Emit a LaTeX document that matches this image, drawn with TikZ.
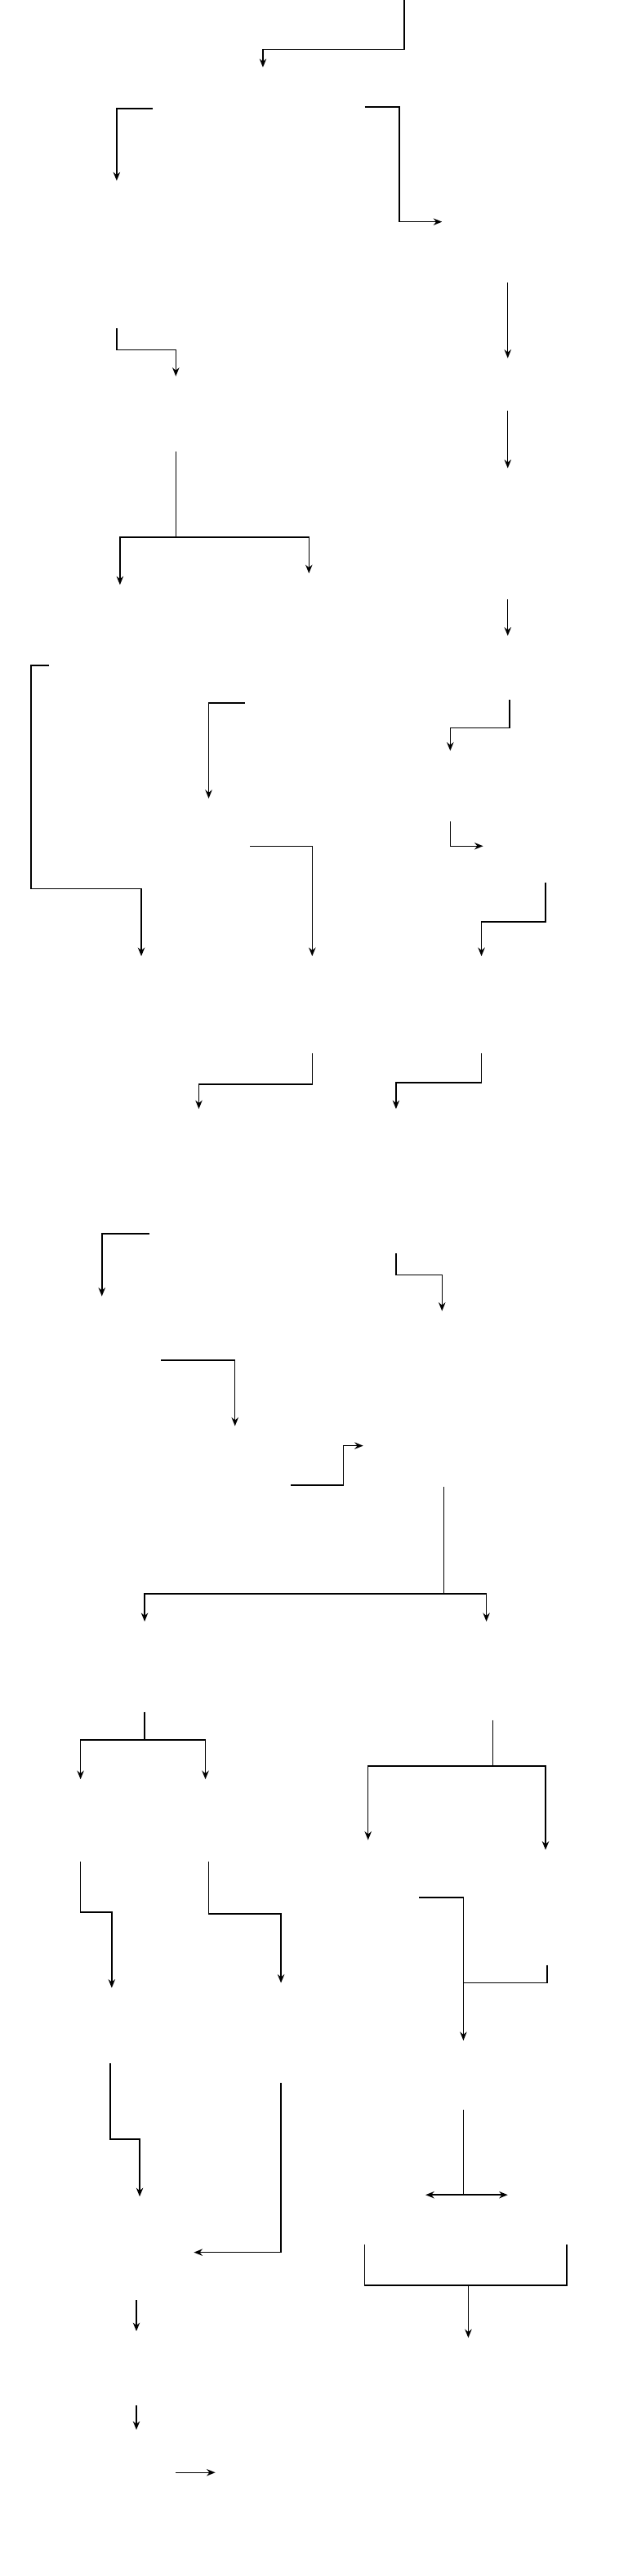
\documentclass[tikz,border=0pt]{standalone}
\usepackage{tikz}
\usetikzlibrary{arrows.meta}

\begin{document}
\begin{tikzpicture}[
    x=0.0402cm, y=-0.0402cm,
    wire/.style={draw, line width=0.85pt},
    link/.style={wire, -{Stealth[length=6pt, width=4.8pt]}},
    twolink/.style={wire, {Stealth[length=6pt, width=4.8pt]}-{Stealth[length=6pt, width=4.8pt]}}
]
\useasboundingbox (0,0) rectangle (382,1568);

% end points of the connectors
\coordinate (a0) at (246,-1);   \coordinate (a1) at (160,41);
\coordinate (b0) at (93,66);    \coordinate (b1) at (71,110);
\coordinate (c0) at (222,65);   \coordinate (c1) at (269,135);
\coordinate (d0) at (309,172);  \coordinate (d1) at (309,218);
\coordinate (e0) at (71,200);   \coordinate (e1) at (107,229);
\coordinate (f0) at (309,250);  \coordinate (f1) at (309,285);
\coordinate (g0) at (107,275);  \coordinate (g1) at (73,356);   \coordinate (g2) at (188,349);
\coordinate (h0) at (309,365);  \coordinate (h1) at (309,387);
\coordinate (i0) at (30,405);   \coordinate (i1) at (86,582);
\coordinate (j0) at (149,428);  \coordinate (j1) at (127,486);
\coordinate (k0) at (310,426);  \coordinate (k1) at (274,457);
\coordinate (l0) at (274,500);  \coordinate (l1) at (294,515);
\coordinate (m0) at (152,515);  \coordinate (m1) at (190,582);
\coordinate (n0) at (332,537);  \coordinate (n1) at (293,582);
\coordinate (o0) at (190,641);  \coordinate (o1) at (121,675);
\coordinate (p0) at (293,641);  \coordinate (p1) at (241,675);
\coordinate (q0) at (91,751);   \coordinate (q1) at (62,789);
\coordinate (r0) at (241,763);  \coordinate (r1) at (269,798);
\coordinate (s0) at (98,828);   \coordinate (s1) at (143,868);
\coordinate (u0) at (177,904);  \coordinate (u1) at (221,880);
\coordinate (v0) at (270,905);  \coordinate (v1) at (88,987);   \coordinate (v2) at (296,987);
\coordinate (w0) at (88,1042);  \coordinate (w1) at (49,1083);  \coordinate (w2) at (125,1083);
\coordinate (x0) at (300,1047); \coordinate (x1) at (224,1120); \coordinate (x2) at (332,1126);
\coordinate (y0) at (49,1133);  \coordinate (y1) at (68,1210);
\coordinate (z0) at (127,1133); \coordinate (z1) at (171,1207);
\coordinate (aa0) at (255,1155); \coordinate (aa1) at (282,1242); \coordinate (aa2) at (333,1196);
\coordinate (bb0) at (67,1256);  \coordinate (bb1) at (85,1337);
\coordinate (cc0) at (171,1268); \coordinate (cc1) at (118,1371);
\coordinate (dd0) at (282,1284); \coordinate (dd1) at (259,1336); \coordinate (dd2) at (309,1336);
\coordinate (ee0) at (222,1366); \coordinate (ee1) at (345,1366); \coordinate (ee2) at (285,1423);
\coordinate (ff0) at (83,1400);  \coordinate (ff1) at (83,1419);
\coordinate (gg0) at (83,1464);  \coordinate (gg1) at (83,1479);
\coordinate (hh0) at (107,1505); \coordinate (hh1) at (131,1505);

% connectors
\draw[link] (a0) -- ++(0,31) -| (a1);
\draw[link] (b0) -| (b1);
\draw[link] (c0) -- ++(21,0) |- (c1);
\draw[link] (d0) -- (d1);
\draw[link] (e0) -- ++(0,13) -| (e1);
\draw[link] (f0) -- (f1);
\draw[wire] (g0) -- ++(0,52) coordinate (gj);
\draw[link] (gj) -| (g1);
\draw[link] (gj) -| (g2);
\draw[link] (h0) -- (h1);
\draw[link] (i0) -- ++(-11,0) -- ++(0,136) -| (i1);
\draw[link] (j0) -| (j1);
\draw[link] (k0) -- ++(0,17) -| (k1);
\draw[link] (l0) |- (l1);
\draw[link] (m0) -| (m1);
\draw[link] (n0) -- ++(0,24) -| (n1);
\draw[link] (o0) -- ++(0,19) -| (o1);
\draw[link] (p0) -- ++(0,18) -| (p1);
\draw[link] (q0) -| (q1);
\draw[link] (r0) -- ++(0,13) -| (r1);
\draw[link] (s0) -| (s1);
\draw[link] (u0) -- ++(32,0) |- (u1);
\draw[wire] (v0) -- ++(0,65) coordinate (vj);
\draw[link] (vj) -| (v1);
\draw[link] (vj) -| (v2);
\draw[wire] (w0) -- ++(0,17) coordinate (wj);
\draw[link] (wj) -| (w1);
\draw[link] (wj) -| (w2);
\draw[wire] (x0) -- ++(0,28) coordinate (xj);
\draw[link] (xj) -| (x1);
\draw[link] (xj) -| (x2);
\draw[link] (y0) -- ++(0,31) -| (y1);
\draw[link] (z0) -- ++(0,32) -| (z1);
\draw[link] (aa0) -| (aa1);
\draw[wire] (aa2) -- ++(0,11) -| (aa1);
\draw[link] (bb0) -- ++(0,46) -| (bb1);
\draw[link] (cc0) |- (cc1);
\draw[wire] (dd0) -- (dd0 |- dd1);
\draw[twolink] (dd1) -- (dd2);
\draw[wire] (ee0) -- ++(0,25) coordinate (ej) -| (ee1);
\draw[link] (ej -| ee2) -- (ee2);
\draw[link] (ff0) -- (ff1);
\draw[link] (gg0) -- (gg1);
\draw[link] (hh0) -- (hh1);
\end{tikzpicture}
\end{document}
